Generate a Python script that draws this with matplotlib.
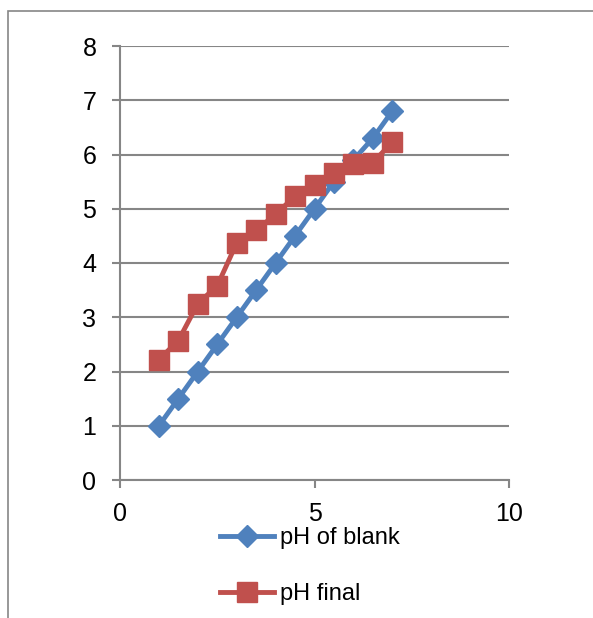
import matplotlib.pyplot as plt
from matplotlib.patches import Rectangle

plt.rcParams['font.family'] = ['Liberation Sans', 'DejaVu Sans']

# datos
x_vals = [1, 1.5, 2, 2.5, 3, 3.5, 4, 4.5, 5, 5.5, 6, 6.5, 7]
ph_blank = [1, 1.5, 2, 2.5, 3, 3.5, 4, 4.5, 5, 5.5, 5.9, 6.3, 6.8]
ph_final = [2.22, 2.57, 3.25, 3.58, 4.37, 4.6, 4.9, 5.23, 5.44, 5.66, 5.83, 5.85, 6.23]

x_ticks = [0, 5, 10]
y_ticks = [0, 1, 2, 3, 4, 5, 6, 7, 8]

gris = "#868686"
azul = "#4F81BD"
rojo = "#C0504D"

fig = plt.figure(figsize=(5.93, 6.18), dpi=100)
ax = fig.add_axes([120/593, 1 - 480/618, 389/593, 434/618])

ax.plot(x_vals, ph_blank, color=azul, lw=3.5, marker="D", markersize=11, label="pH of blank", zorder=3)
ax.plot(x_vals, ph_final, color=rojo, lw=3.5, marker="s", markersize=14, label="pH final", zorder=4)

ax.set_xlim(0, 10)
ax.set_ylim(0, 8)
ax.set_xticks(x_ticks)
ax.set_yticks(y_ticks)
ax.yaxis.grid(True, color=gris, lw=1.5)
ax.set_axisbelow(True)

ax.spines['top'].set_visible(False)
ax.spines['right'].set_visible(False)
ax.spines['left'].set_color(gris)
ax.spines['bottom'].set_color(gris)
ax.spines['left'].set_linewidth(1.5)
ax.spines['bottom'].set_linewidth(1.5)
ax.tick_params(axis='both', colors=gris, labelcolor="black", labelsize=18, length=6, width=1.5, direction='out')
ax.tick_params(axis='y', pad=11)
ax.tick_params(axis='x', pad=10)

fig.legend(loc='center left', bbox_to_anchor=(220/593, 1 - 566/618), frameon=False,
           fontsize=17, handlelength=2.3, handletextpad=0.25, labelspacing=1.45,
           borderpad=0, borderaxespad=0)

# marco exterior
fig.patches.append(Rectangle((8/593, -0.1), 1.2, 1 - 11/618 + 0.1, transform=fig.transFigure,
                             fill=False, edgecolor=gris, lw=1.2, clip_on=False))

plt.savefig("out.png", dpi=100)
plt.close()
